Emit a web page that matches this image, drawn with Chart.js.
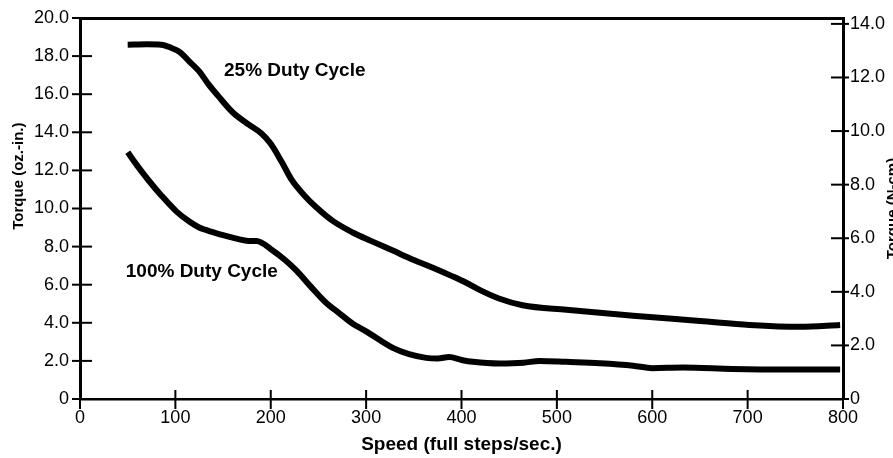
<!DOCTYPE html>
<html>
<head>
<meta charset="utf-8">
<script src="https://cdn.jsdelivr.net/npm/chart.js@4.4.1/dist/chart.umd.min.js"></script>
<style>
  html, body { margin: 0; padding: 0; background: #fff; overflow: hidden; }
  #wrap { width: 893px; height: 458px; }
</style>
</head>
<body>
<div id="wrap"><canvas id="c" width="893" height="458"></canvas></div>
<script>
// ---- data ----
const speeds25 = [50, 70, 85, 95, 105, 115, 125, 135, 145, 160, 177, 190, 200, 212, 222, 235, 248, 265, 286, 305, 328, 350, 370, 390, 405, 420, 440, 464, 510, 580, 650, 702, 755, 797];
const torque25 = [18.6, 18.62, 18.6, 18.45, 18.2, 17.7, 17.2, 16.5, 15.9, 15.05, 14.4, 13.95, 13.4, 12.4, 11.5, 10.7, 10.05, 9.35, 8.74, 8.3, 7.79, 7.3, 6.89, 6.45, 6.1, 5.7, 5.26, 4.92, 4.68, 4.37, 4.1, 3.89, 3.79, 3.89];

const speeds100 = [50, 60, 72, 85, 101, 115, 125, 140, 160, 177, 185, 202, 215, 227, 242, 258, 272, 286, 300, 328, 345, 363, 375, 387, 400, 412, 440, 465, 482, 510, 545, 580, 600, 632, 684, 740, 797];
const torque100 = [12.95, 12.25, 11.47, 10.7, 9.85, 9.3, 9.0, 8.75, 8.47, 8.3, 8.3, 7.8, 7.3, 6.74, 5.9, 5.05, 4.5, 3.95, 3.55, 2.68, 2.35, 2.16, 2.13, 2.2, 2.05, 1.95, 1.86, 1.9, 2.0, 1.95, 1.88, 1.75, 1.62, 1.65, 1.58, 1.55, 1.55];

const leftTicks = [0, 2, 4, 6, 8, 10, 12, 14, 16, 18, 20];
const rightTicks = [0, 2, 4, 6, 8, 10, 12, 14];
const xTicks = [0, 100, 200, 300, 400, 500, 600, 700, 800];
const rightMax = 14.22; // right-axis value at the top of the frame

const labels = [
  { text: '25% Duty Cycle', x: 151, y: 17.24 },
  { text: '100% Duty Cycle', x: 48, y: 6.7 }
];

const FONT = "'Liberation Sans', Arial, Helvetica, sans-serif";

const toPts = (xs, ys) => xs.map((x, i) => ({ x, y: ys[i] }));

const decorPlugin = {
  id: 'decor',
  afterDraw(chart) {
    const ctx = chart.ctx;
    const { x, y, y2 } = chart.scales;
    const area = chart.chartArea;
    ctx.save();
    ctx.strokeStyle = '#000';
    ctx.lineWidth = 2;
    ctx.lineCap = 'butt';
    leftTicks.forEach(v => {
      const py = y.getPixelForValue(v);
      ctx.beginPath(); ctx.moveTo(area.left - 8, py); ctx.lineTo(area.left + 12, py); ctx.stroke();
    });
    rightTicks.forEach(v => {
      const py = y2.getPixelForValue(v);
      ctx.beginPath(); ctx.moveTo(area.right - 12, py); ctx.lineTo(area.right + 6, py); ctx.stroke();
    });
    xTicks.forEach(v => {
      const px = x.getPixelForValue(v);
      ctx.beginPath(); ctx.moveTo(px, area.bottom - 9); ctx.lineTo(px, area.bottom + 10); ctx.stroke();
    });
    ctx.fillStyle = '#000';
    ctx.font = 'bold 19px ' + FONT;
    ctx.textAlign = 'left';
    ctx.textBaseline = 'middle';
    labels.forEach(l => ctx.fillText(l.text, x.getPixelForValue(l.x), y.getPixelForValue(l.y)));
    ctx.font = 'bold 15px ' + FONT;
    ctx.textAlign = 'center';
    ctx.textBaseline = 'alphabetic';
    ctx.save();
    ctx.translate(23, y.getPixelForValue(11.7));
    ctx.rotate(-Math.PI / 2);
    ctx.fillText('Torque (oz.-in.)', 0, 0);
    ctx.restore();
    ctx.save();
    ctx.translate(area.right + 54, y2.getPixelForValue(rightMax / 2));
    ctx.rotate(-Math.PI / 2);
    ctx.fillText('Torque (N-cm)', 0, 0);
    ctx.restore();
    ctx.restore();
  }
};

const fmt = v => (v === 0 ? '0' : Number(v).toFixed(1));
const tickFont = { family: FONT, size: 18 };
const noPad = s => { s.paddingTop = 0; s.paddingBottom = 0; };

new Chart(document.getElementById('c'), {
  type: 'line',
  data: {
    datasets: [
      { label: '25% Duty Cycle', data: toPts(speeds25, torque25) },
      { label: '100% Duty Cycle', data: toPts(speeds100, torque100) }
    ]
  },
  options: {
    responsive: false,
    animation: false,
    devicePixelRatio: 1,
    layout: { padding: 0 },
    elements: {
      line: { borderColor: '#000', borderWidth: 6, tension: 0.4, cubicInterpolationMode: 'monotone', borderCapStyle: 'butt', fill: false },
      point: { radius: 0, hoverRadius: 0 }
    },
    plugins: { legend: { display: false }, tooltip: { enabled: false } },
    scales: {
      x: {
        type: 'linear', position: 'bottom', min: 0, max: 800,
        afterBuildTicks: s => { s.ticks = xTicks.map(v => ({ value: v })); },
        afterFit: s => { s.height = 59; },
        grid: { display: false, drawTicks: false },
        border: { display: true, color: '#000', width: 2.5 },
        ticks: { color: '#000', font: tickFont, padding: 8, maxRotation: 0 },
        title: { display: true, text: 'Speed (full steps/sec.)', color: '#000', font: { family: FONT, size: 19, weight: 'bold' }, padding: { top: 0, bottom: 2 } }
      },
      xTop: {
        type: 'linear', position: 'top', min: 0, max: 800,
        afterFit: s => { s.height = 18; },
        grid: { display: false, drawTicks: false },
        border: { display: true, color: '#000', width: 3 },
        ticks: { display: false }
      },
      y: {
        type: 'linear', position: 'left', min: 0, max: 20,
        afterBuildTicks: s => { s.ticks = leftTicks.map(v => ({ value: v })); },
        afterFit: s => { s.width = 80; noPad(s); },
        grid: { display: false, drawTicks: false },
        border: { display: true, color: '#000', width: 3 },
        ticks: { color: '#000', font: tickFont, padding: 11, callback: fmt }
      },
      y2: {
        type: 'linear', position: 'right', min: 0, max: rightMax,
        afterBuildTicks: s => { s.ticks = rightTicks.map(v => ({ value: v })); },
        afterFit: s => { s.width = 50; noPad(s); },
        grid: { display: false, drawTicks: false },
        border: { display: true, color: '#000', width: 3 },
        ticks: { color: '#000', font: tickFont, padding: 7, callback: fmt }
      }
    }
  },
  plugins: [decorPlugin]
});
</script>
</body>
</html>
